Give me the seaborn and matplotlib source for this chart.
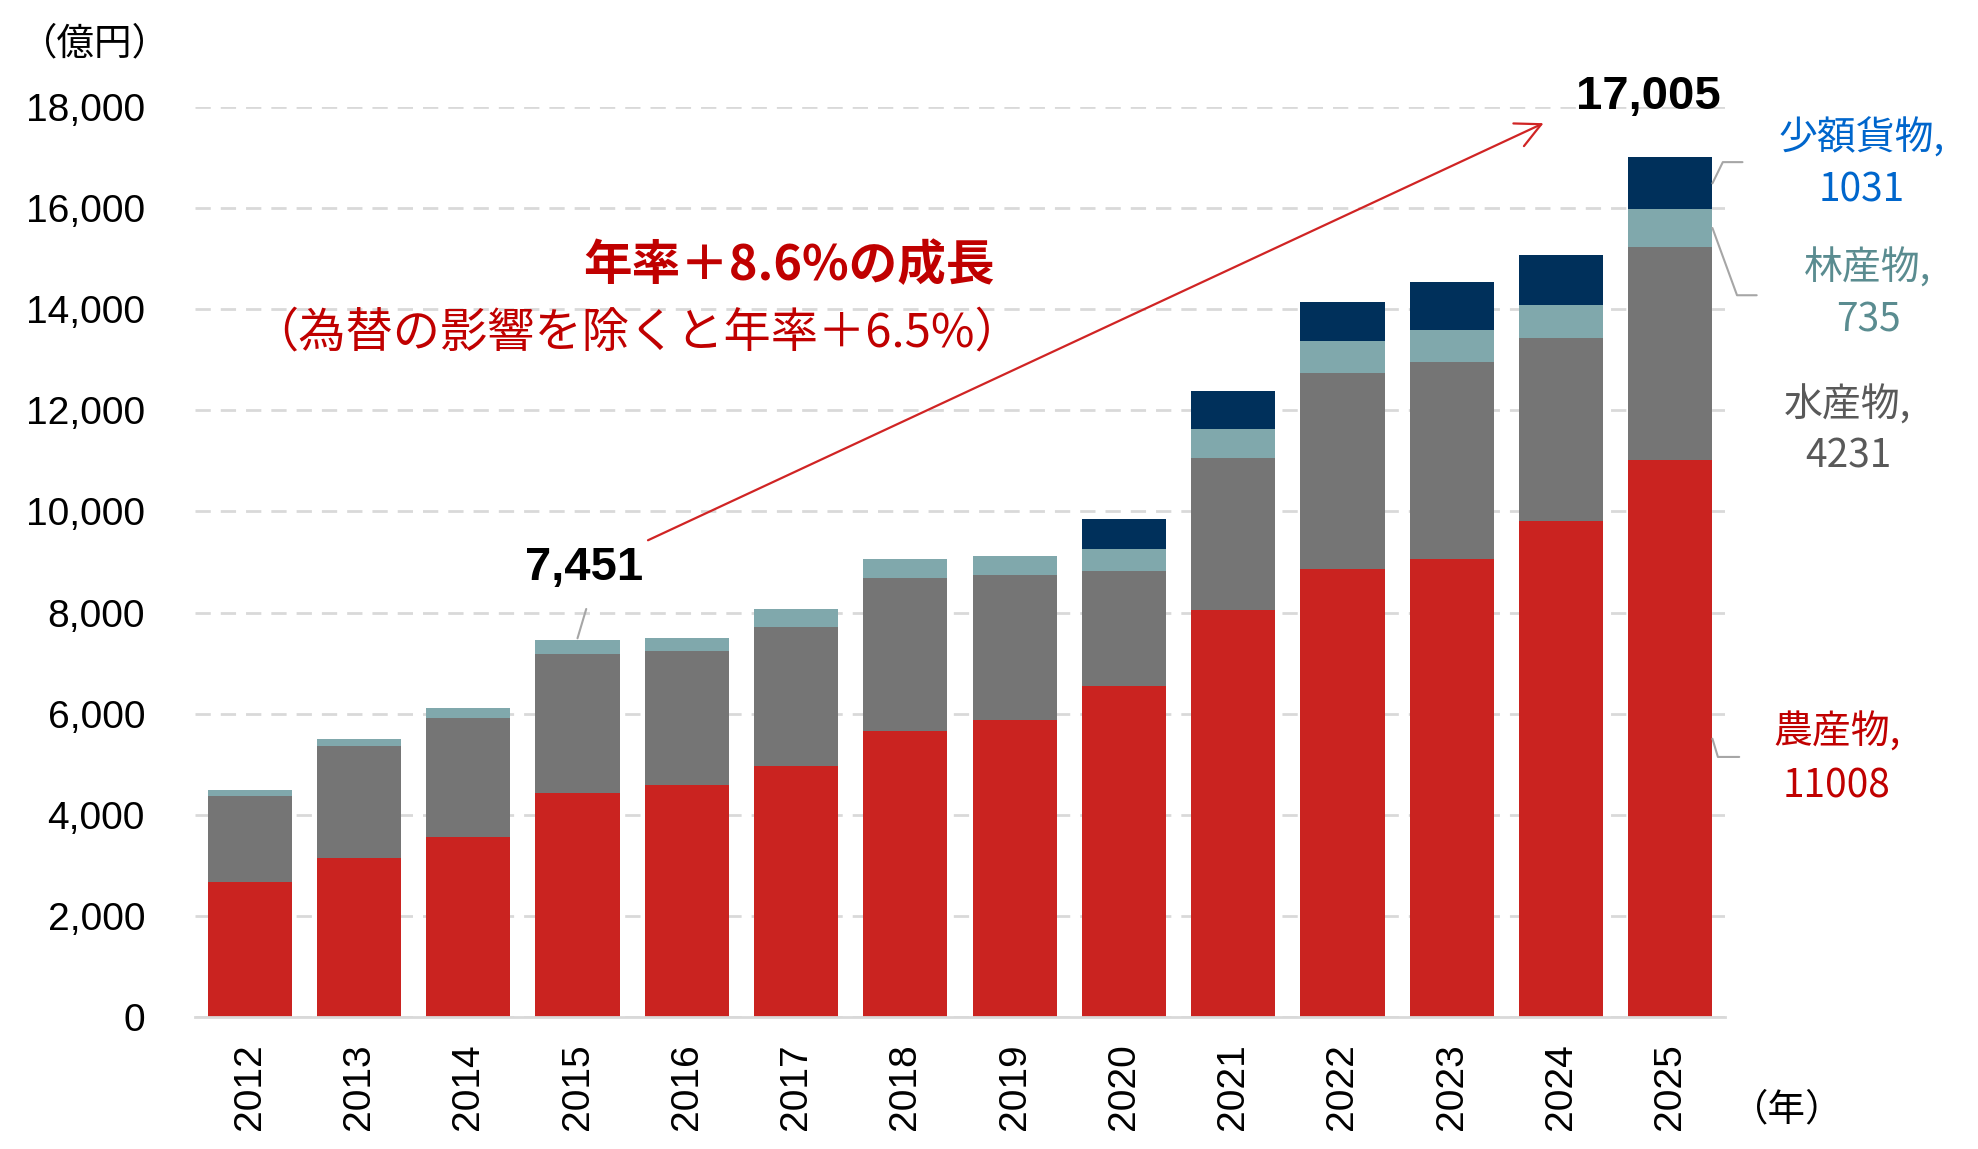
import matplotlib
matplotlib.use('Agg')
import matplotlib.pyplot as plt
import pandas as pd
import seaborn as sns

# export values, 100 million yen
years = [str(y) for y in range(2012, 2026)]
agri = [2680, 3136, 3569, 4431, 4593, 4966, 5661, 5878, 6552, 8041, 8870, 9059, 9816, 11008]
fish = [1699, 2217, 2337, 2757, 2641, 2750, 3031, 2873, 2276, 3015, 3873, 3901, 3609, 4231]
forest = [118, 152, 211, 263, 268, 355, 376, 370, 429, 570, 638, 621, 668, 735]
small = [0, 0, 0, 0, 0, 0, 0, 0, 603, 756, 759, 960, 978, 1031]
y_ticks = [0, 2000, 4000, 6000, 8000, 10000, 12000, 14000, 16000, 18000]

RED = '#CA2320'
GRAY = '#757575'
TEAL = '#80A8AC'
NAVY = '#00305B'

df = pd.DataFrame({'year': years, 'agri': agri, 'fish': fish,
                   'forest': forest, 'small': small})
df['c_fish'] = df['agri'] + df['fish']
df['c_forest'] = df['c_fish'] + df['forest']
df['total'] = df['c_forest'] + df['small']

sns.set_style('white')
plt.rcParams['font.family'] = ['Liberation Sans', 'Noto Sans CJK JP', 'DejaVu Sans']
plt.rcParams['text.color'] = 'black'
plt.rcParams['xtick.color'] = 'black'
plt.rcParams['ytick.color'] = 'black'
JP = ['Noto Sans CJK JP', 'DejaVu Sans']

W, H = 1978, 1149
fig = plt.figure(figsize=(W / 100, H / 100), dpi=100)
ax = fig.add_axes([195 / W, 1 - 1017 / H, (1725 - 195) / W, (1017 - 107) / H])

# stacked bars: draw cumulative heights from the top layer down
for col, colour in [('total', NAVY), ('c_forest', TEAL), ('c_fish', GRAY), ('agri', RED)]:
    sns.barplot(data=df, x='year', y=col, color=colour, saturation=1,
                width=0.77, linewidth=0, ax=ax, zorder=3)

ax.set_xlim(-0.5, 13.5)
ax.set_ylim(0, 18000)
ax.set_yticks(y_ticks)
ax.set_yticklabels([f'{v:,}' for v in y_ticks])
ax.set_xlabel('')
ax.set_ylabel('')
ax.yaxis.grid(True, color='#D9D9D9', linewidth=2.0, linestyle=(0, (5.5, 3.6)), zorder=0)
ax.set_axisbelow(True)
for side in ['left', 'right', 'top']:
    ax.spines[side].set_visible(False)
ax.spines['bottom'].set_color('#D9D9D9')
ax.spines['bottom'].set_linewidth(2.0)
ax.spines['bottom'].set_zorder(4)
ax.tick_params(axis='y', length=0, pad=36, labelsize=28, labelcolor='black')
ax.tick_params(axis='x', length=0, pad=19, labelsize=28, labelrotation=90,
               labelcolor='black')


def fx(px):
    return px / W


def fy(py):
    return 1 - py / H


# unit labels
fig.text(fx(95), fy(44), '（億円）', family=JP, fontsize=27, ha='center', va='center')
fig.text(fx(1787), fy(1110), '（年）', family=JP, fontsize=27, ha='center', va='center')

# totals
t2015 = int(df.loc[df['year'] == '2015', 'total'].iloc[0])
t2025 = int(df['total'].iloc[-1])
fig.text(fx(584), fy(568), f'{t2015:,}', fontsize=34, fontweight='bold',
         color='black', ha='center', va='center')
fig.text(fx(1648), fy(97), f'{t2025:,}', fontsize=34, fontweight='bold',
         color='black', ha='center', va='center')
ax.plot([3.0, 3.08], [t2015 + 40, t2015 + 620], color='#A6A6A6', lw=1.5,
        clip_on=False, zorder=5)

# growth arrow
ax.annotate('', xy=(11.84, 17680), xytext=(3.645, 9430),
            arrowprops=dict(arrowstyle='->', color='#D02424', lw=1.6,
                            mutation_scale=45, shrinkA=0, shrinkB=0),
            annotation_clip=False, zorder=6)
fig.text(fx(995), fy(266), '年率＋8.6%の成長', family=JP, fontsize=35,
         fontweight='bold', color='#C00000', ha='right', va='center')
fig.text(fx(1022), fy(333), '（為替の影響を除くと年率＋6.5%）', family=JP,
         fontsize=34, color='#C00000', ha='right', va='center')

# category labels for the 2025 bar
last = df.iloc[-1]
labels = [
    ('少額貨物,', int(last['small']), '#0066CC', 1862, 138, 191),
    ('林産物,', int(last['forest']), '#5A8C90', 1868, 268, 321),
    ('水産物,', int(last['fish']), '#595959', 1848, 405, 457),
    ('農産物,', int(last['agri']), '#C00000', 1837, 732, 786),
]
for name, val, colour, cx, y1, y2 in labels:
    fig.text(fx(cx), fy(y1), name, family=JP, fontsize=28, color=colour,
             ha='center', va='center')
    fig.text(fx(cx), fy(y2), str(val), family=JP, fontsize=28, color=colour,
             ha='center', va='center')

# leader lines from segments
edge = 13 + 0.385
mid_small = last['c_forest'] + last['small'] / 2
mid_forest = last['c_fish'] + last['forest'] / 2
mid_agri = last['agri'] / 2
leaders = [
    ([edge, 13.48, 13.66], [mid_small, mid_small + 420, mid_small + 420]),
    ([edge, 13.61, 13.79], [mid_forest, mid_forest - 1330, mid_forest - 1330]),
    ([edge, 13.435, 13.63], [mid_agri, mid_agri - 360, mid_agri - 360]),
]
for xs, ys in leaders:
    ax.plot(xs, ys, color='#A6A6A6', lw=1.5, clip_on=False, zorder=5)

fig.savefig('out.png', dpi=100)
